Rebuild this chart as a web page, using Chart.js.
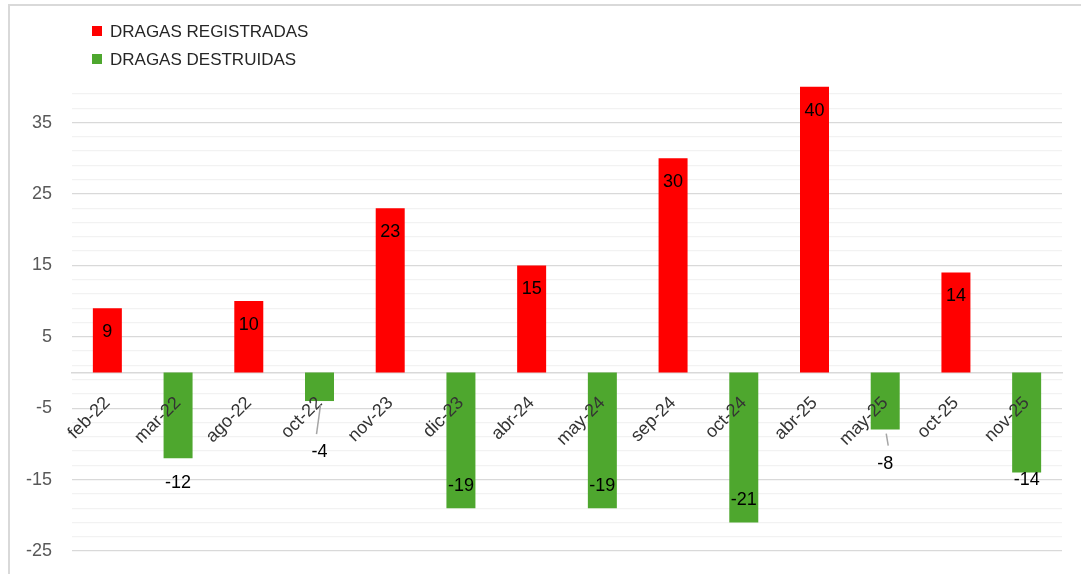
<!DOCTYPE html>
<html lang="es">
<head>
    <meta charset="UTF-8">
    <title>Dragas registradas y destruidas</title>
    <style>
        html, body { margin: 0; padding: 0; background: #fff; overflow: hidden; }
        #wrap { position: relative; width: 1081px; height: 574px; }
    </style>
</head>
<body>
    <div id="wrap">
        <canvas id="myChart"></canvas>
    </div>

    <script src="https://cdn.jsdelivr.net/npm/chart.js@4.4.0/dist/chart.umd.min.js"></script>
    <script>
        // data
        var meses = ['feb-22', 'mar-22', 'ago-22', 'oct-22', 'nov-23', 'dic-23', 'abr-24',
                     'may-24', 'sep-24', 'oct-24', 'abr-25', 'may-25', 'oct-25', 'nov-25'];
        var registradas = [9, null, 10, null, 23, null, 15, null, 30, null, 40, null, 14, null];
        var destruidas = [null, -12, null, -4, null, -19, null, -19, null, -21, null, -8, null, -14];

        // where each value label sits, in px from the bar end (labels were moved by hand in the original)
        var labelDyRegistradas = [24, 0, 24, 0, 24, 0, 24, 0, 24, 0, 24, 0, 24, 0];
        var labelDyDestruidas = [0, 25, 0, 51, 0, -22, 0, -22, 0, -22, 0, 34, 0, 8];
        var leaderLines = [false, false, false, true, false, false, false, false, false, false, false, true, false, false];

        var FONT = '"Liberation Sans", Arial, sans-serif';

        // draws the value labels, leader lines, legend and the outer frame
        var extrasPlugin = {
            id: 'extras',
            beforeDraw: function(chart) {
                var ctx = chart.ctx;
                ctx.save();
                ctx.strokeStyle = '#d9d9d9';
                ctx.lineWidth = 2;
                ctx.strokeRect(9, 5, 1200, 1000);
                ctx.restore();
            },
            afterDraw: function(chart) {
                var ctx = chart.ctx;
                ctx.save();
                ctx.font = '18px ' + FONT;
                ctx.textAlign = 'center';
                ctx.textBaseline = 'middle';
                ctx.fillStyle = '#000';
                var offsets = [labelDyRegistradas, labelDyDestruidas];
                chart.data.datasets.forEach(function(ds, i) {
                    var meta = chart.getDatasetMeta(i);
                    meta.data.forEach(function(bar, j) {
                        var v = ds.data[j];
                        if (v === null) return;
                        var ly = bar.y + offsets[i][j];
                        if (i === 1 && leaderLines[j]) {
                            ctx.strokeStyle = '#a6a6a6';
                            ctx.lineWidth = 1.5;
                            ctx.beginPath();
                            ctx.moveTo(bar.x + 1, bar.y + 4);
                            ctx.lineTo(bar.x + 3 * (j === 3 ? -1 : 1), ly - 18);
                            ctx.stroke();
                        }
                        ctx.fillText(String(v), bar.x, ly);
                    });
                });

                // legend, stacked like the original
                ctx.font = '17px ' + FONT;
                ctx.textAlign = 'left';
                chart.data.datasets.forEach(function(ds, i) {
                    var y = 31 + i * 28;
                    ctx.fillStyle = ds.backgroundColor;
                    ctx.fillRect(92, y - 5, 10, 10);
                    ctx.fillStyle = '#262626';
                    ctx.fillText(ds.label, 110, y + 1);
                });
                ctx.restore();
            }
        };

        function createChart() {
            var ctx = document.getElementById('myChart').getContext('2d');
            var myChart = new Chart(ctx, {
                type: 'bar',
                data: {
                    labels: meses,
                    datasets: [
                        {
                            label: 'DRAGAS REGISTRADAS',
                            data: registradas,
                            backgroundColor: '#FF0000',
                            clip: false
                        },
                        {
                            label: 'DRAGAS DESTRUIDAS',
                            data: destruidas,
                            backgroundColor: '#4EA72E',
                            clip: false
                        }
                    ]
                },
                options: {
                    responsive: true,
                    maintainAspectRatio: false,
                    animation: false,
                    skipNull: true,
                    barPercentage: 0.41,
                    categoryPercentage: 1,
                    layout: { padding: { top: 94, right: 19, bottom: 23, left: 0 } },
                    plugins: {
                        legend: { display: false },
                        tooltip: { enabled: false }
                    },
                    scales: {
                        x: {
                            position: { y: 0 },
                            grid: { display: false, drawTicks: false },
                            border: { display: true, color: '#d9d9d9', width: 1.5 },
                            ticks: {
                                z: 1,
                                minRotation: 45,
                                maxRotation: 45,
                                autoSkip: false,
                                padding: 20,
                                color: '#333',
                                font: { family: FONT, size: 18 }
                            },
                            afterFit: function(scale) {
                                scale.height = 0;
                                scale.paddingLeft = 0;
                                scale.paddingRight = 0;
                            }
                        },
                        y: {
                            min: -25,
                            max: 39,
                            border: { display: false },
                            grid: {
                                drawTicks: false,
                                lineWidth: 1.3,
                                color: function(c) {
                                    return (c.tick.value - 5) % 10 === 0 ? '#d9d9d9' : '#f2f2f2';
                                }
                            },
                            ticks: {
                                stepSize: 2,
                                autoSkip: false,
                                padding: 20,
                                color: '#595959',
                                font: { family: FONT, size: 18 },
                                callback: function(v) {
                                    return (v - 5) % 10 === 0 ? v : '';
                                }
                            },
                            afterFit: function(scale) {
                                scale.width = 72;
                                scale.paddingTop = 0;
                                scale.paddingBottom = 0;
                            }
                        }
                    }
                },
                plugins: [extrasPlugin]
            });
        }

        createChart();
    </script>
</body>
</html>
